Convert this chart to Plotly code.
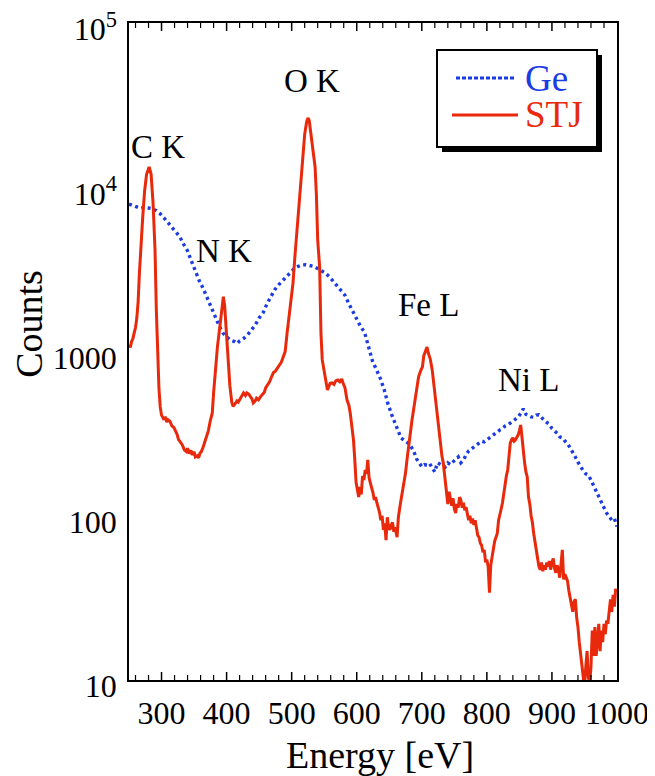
import math
import plotly.graph_objects as go

# ---------------- data ----------------
stj_energy = [250, 252, 254, 256, 258, 260, 262, 264, 266, 268, 271, 274, 277, 281, 284, 287, 290, 292, 294, 296, 298,
              300, 303, 306, 308, 310, 313, 316, 319, 321, 324, 326, 329, 332, 335, 338, 340, 342, 345, 347, 350, 352,
              355, 357, 359, 361, 364, 367, 370, 372, 375, 378, 380, 383, 386, 389, 392, 395, 397, 399, 401, 403, 405,
              408, 410, 413, 416, 418, 421, 424, 426, 429, 431, 434, 437, 439, 441, 444, 446, 449, 452, 455, 458, 460,
              463, 466, 469, 472, 475, 478, 481, 484, 487, 490, 493, 496, 499, 502, 505, 508, 512, 516, 520, 523, 525,
              527, 530, 533, 536, 538, 540, 543, 545, 547, 549, 552, 555, 557, 559, 562, 565, 568, 571, 574, 577, 579,
              582, 585, 588, 590, 593, 595, 597, 599, 601, 603, 605, 607, 609, 611, 613, 615, 617, 619, 621, 623, 625,
              627, 629, 631, 633, 635, 637, 639, 641, 643, 645, 647, 649, 651, 653, 655, 657, 659, 662, 664, 667, 670,
              673, 675, 677, 679, 682, 685, 688, 690, 693, 695, 698, 701, 703, 706, 708, 710, 713, 716, 719, 722, 724,
              726, 728, 731, 733, 736, 738, 740, 742, 744, 746, 748, 750, 752, 754, 756, 758, 760, 762, 764, 766, 768,
              770, 772, 774, 776, 778, 780, 782, 784, 786, 788, 790, 792, 794, 796, 798, 800, 802, 804, 806, 808, 810,
              812, 814, 816, 818, 820, 822, 824, 826, 828, 830, 832, 834, 836, 838, 840, 842, 844, 846, 848, 850, 852,
              854, 856, 858, 860, 862, 864, 866, 868, 870, 872, 874, 876, 878, 880, 882, 884, 886, 888, 890, 892, 894,
              896, 898, 900, 902, 904, 906, 908, 910, 912, 914, 916, 918, 920, 922, 924, 926, 928, 930, 932, 934, 936,
              938, 940, 942, 944, 946, 948, 950, 952, 954, 956, 958, 960, 962, 964, 966, 968, 970, 972, 974, 976, 978,
              980, 982, 984, 986, 988, 990, 992, 994, 996, 998, 1000]
stj_counts = [1100, 1060, 1150, 1200, 1300, 1400, 1600, 2000, 3000, 4200, 6500, 9500, 12000, 13300, 12000, 8000, 4150,
              1800, 900, 600, 460,
              410, 390, 395, 372, 384, 375, 352, 345, 333, 312, 292, 282, 270, 252, 246, 258, 240, 250, 235, 245, 228,
              232, 225, 240, 245, 262, 285, 302, 330, 380, 423, 560, 800, 1080, 1350, 1750, 2160, 1900, 1450, 1050,
              800, 620, 490, 465, 480, 500, 493, 520, 545, 560, 540, 560, 550, 525, 515, 486, 500, 520, 508, 530, 545,
              565, 600, 625, 655, 700, 745, 760, 790, 820, 860, 927, 1000, 1300, 1600, 2000, 2600, 3800, 5270, 8500,
              13300, 21000, 25000, 26400, 25500, 21000, 17000, 13300, 9000, 4780, 3270, 1300, 889, 800, 680, 583, 610,
              640, 644, 630, 665, 671, 655, 680, 644, 600, 508, 470, 423, 340, 290, 220, 160, 144, 130, 150, 135, 175,
              165, 190, 180, 219, 170, 158, 150, 138, 125, 130, 120, 112, 105, 94, 100, 82, 90, 71, 98, 85, 82, 88, 91,
              80, 85, 74, 98, 118, 138, 165, 182, 215, 252, 320, 384, 460, 530, 610, 700, 760, 806, 940, 1000, 1065,
              980, 900, 773, 600, 480, 423, 350, 290, 230, 210, 165, 140, 118, 140, 122, 115, 128, 110, 104, 118, 112,
              130, 125, 112, 120, 108, 113, 100, 94, 100, 90, 96, 88, 94, 82, 76, 74, 68, 66, 60, 62, 52, 54, 49, 34,
              50, 56, 64, 70, 74, 78, 94, 100, 110, 120, 140, 158, 175, 190, 230, 278, 290, 298, 285, 290, 300, 310,
              330, 357, 300, 242, 210, 185, 173, 130, 118, 100, 91, 78, 68, 62, 55, 49, 47, 52, 46, 50, 47, 52, 49, 53,
              47, 52, 55, 48, 45, 50, 47, 42, 50, 62, 41, 44, 42, 40, 35, 32, 28, 26, 30, 31, 24, 21, 17, 14.6, 12,
              10.4, 9, 12, 15, 10.4, 9.5, 12, 20, 14, 21, 14, 18, 22, 15, 20, 17, 22, 19, 23, 22, 28, 31, 26, 33, 28,
              36]

ge_energy = [250, 256, 262, 268, 274, 280, 286, 292, 298, 304, 310, 316, 322, 328, 334, 340, 346, 352, 358, 364, 370,
             376, 382, 388, 394, 400, 406, 412, 416, 420, 426, 432, 438, 444, 450, 456, 462, 468, 474, 480, 486, 492,
             498, 504, 510, 516, 522, 528, 534, 540, 546, 552, 558, 564, 570, 576, 582, 588, 594, 600, 606, 612, 618,
             624, 630, 636, 642, 648, 654, 660, 664, 668, 672, 676, 680, 684, 688, 692, 696, 700, 704, 708, 712, 716,
             720, 724, 728, 732, 736, 740, 744, 748, 752, 756, 760, 764, 768, 772, 776, 780, 784, 788, 792, 796, 800,
             804, 808, 812, 816, 820, 824, 828, 832, 836, 840, 844, 848, 852, 856, 860, 864, 868, 872, 876, 880, 884,
             888, 892, 896, 900, 904, 908, 912, 916, 920, 924, 928, 932, 936, 940, 944, 948, 952, 956, 960, 964, 968,
             972, 976, 980, 984, 988, 992, 996, 1000]
ge_counts = [7900, 7700, 7600, 7450, 7550, 7480, 7400, 7200, 6900, 6500, 6100, 5700, 5400, 5000, 4500, 4100, 3550,
             3050, 2700, 2420, 2150, 1880, 1650, 1450, 1300, 1230, 1170, 1150, 1120, 1160, 1200, 1260, 1340, 1450,
             1600, 1720, 1950, 2150, 2380, 2550, 2700, 2900, 3050, 3200, 3300, 3370, 3380, 3350, 3300, 3200, 3100,
             3000, 2850, 2680, 2500, 2380, 2200, 1950, 1750, 1580, 1420, 1310, 1080, 880, 780, 690, 590, 480, 410,
             360, 330, 298, 290, 282, 275, 262, 245, 222, 208, 199, 205, 203, 208, 196, 185, 210, 206, 202, 198, 210,
             205, 213, 222, 228, 210, 218, 235, 248, 255, 262, 272, 278, 285, 282, 290, 298, 305, 318, 324, 333, 340,
             352, 357, 368, 380, 392, 398, 420, 448, 415, 405, 400, 398, 410, 412, 395, 382, 370, 360, 340, 330, 318,
             302, 298, 285, 275, 259, 245, 228, 212, 198, 188, 180, 177, 165, 152, 140, 132, 120, 112, 104, 98, 94, 96,
             86]

series_names = ["Ge", "STJ"]
x_tick_values = [300, 400, 500, 600, 700, 800, 900, 1000]
x_minor_values = [v for v in range(260, 1000, 20) if v % 100 != 0]
y_tick_values = [10, 100, 1000, 10000, 100000]
y_tick_labels = ["10", "100", "1000", "10<sup>4</sup>", "10<sup>5</sup>"]
y_minor_values = [m * d for d in (10, 100, 1000, 10000) for m in range(2, 10)]
peak_labels = ["C K", "N K", "O K", "Fe L", "Ni L"]
peak_energy = [294, 396, 531, 710, 864]
peak_log_counts = [4.245, 3.612, 4.647, 3.284, 2.827]

# ---------------- style ----------------
BLUE = "#1b3be3"
RED = "#e8290b"
SERIF = "Liberation Serif, Times New Roman, serif"
PLOT_W, PLOT_H = 488.0, 657.0

fig = go.Figure()
fig.add_trace(go.Scatter(x=ge_energy, y=ge_counts, mode="lines", name=series_names[0],
                         line=dict(color=BLUE, width=3.4, dash="3px,3.5px"), showlegend=False))
fig.add_trace(go.Scatter(x=stj_energy, y=stj_counts, mode="lines", name=series_names[1],
                         line=dict(color=RED, width=3), showlegend=False))

axis_common = dict(
    showgrid=False, zeroline=False, showline=True, linecolor="black", linewidth=1.5,
    mirror=True, ticks="", tickfont=dict(family=SERIF, size=32, color="black"), automargin=False,
    ticklabeloverflow="allow",
)

fig.update_xaxes(range=[250, 1000], tickmode="array", tickvals=x_tick_values,
                 ticklabelstandoff=4, **axis_common)
fig.update_yaxes(type="log", range=[1, 5.0005], tickmode="array", tickvals=y_tick_values, ticktext=y_tick_labels,
                 ticklabelstandoff=4, ticklabelshift=6, **axis_common)

# ---- inside tick marks on all four sides, placed on the axes' own coordinates ----
shapes = []
MAJ, MIN = 8.0, 5.0


def x_tick(v, length, width):
    h = length / PLOT_H
    for y0, y1 in ((0, h), (1, 1 - h)):
        shapes.append(dict(type="line", xref="x", yref="paper", x0=v, x1=v, y0=y0, y1=y1,
                           line=dict(color="black", width=width), layer="above"))


def y_tick(v, length, width):
    w = length / PLOT_W
    lv = math.log10(v)
    for x0, x1 in ((0, w), (1, 1 - w)):
        shapes.append(dict(type="line", xref="paper", yref="y", x0=x0, x1=x1, y0=lv, y1=lv,
                           line=dict(color="black", width=width), layer="above"))


for v in x_tick_values[:-1]:
    x_tick(v, MAJ, 1.5)
for v in x_minor_values:
    x_tick(v, MIN, 1.2)
for v in y_tick_values[1:-1]:
    y_tick(v, MAJ, 1.5)
for v in y_minor_values:
    y_tick(v, MIN, 1.2)

# peak annotations
for lab, ex, ly in zip(peak_labels, peak_energy, peak_log_counts):
    fig.add_annotation(x=ex, y=ly, xref="x", yref="y", text=lab, showarrow=False,
                       xanchor="center", yanchor="middle",
                       font=dict(family=SERIF, size=33, color="black"))

# axis titles
fig.add_annotation(x=0.514, y=-0.114, xref="paper", yref="paper", text="Energy [eV]", showarrow=False,
                   xanchor="center", yanchor="middle",
                   font=dict(family=SERIF, size=38, color="black"))
fig.add_annotation(x=-0.205, y=0.542, xref="paper", yref="paper", text="Counts", showarrow=False,
                   xanchor="center", yanchor="middle",
                   textangle=-90, font=dict(family=SERIF, size=38, color="black"))


# legend box (drawn by hand to match the original style)
def px_x(p):
    return (p - 129) / PLOT_W


def px_y(p):
    return (680 - p) / PLOT_H


shapes += [
    dict(type="rect", xref="paper", yref="paper", x0=px_x(442), x1=px_x(602), y0=px_y(152), y1=px_y(55),
         fillcolor="black", line=dict(width=0), layer="above"),
    dict(type="rect", xref="paper", yref="paper", x0=px_x(437), x1=px_x(597), y0=px_y(147), y1=px_y(50),
         fillcolor="white", line=dict(color="black", width=2), layer="above"),
    dict(type="line", xref="paper", yref="paper", x0=px_x(456), x1=px_x(516), y0=px_y(78), y1=px_y(78),
         line=dict(color=BLUE, width=3, dash="4px,2px"), layer="above"),
    dict(type="line", xref="paper", yref="paper", x0=px_x(452), x1=px_x(518), y0=px_y(115), y1=px_y(115),
         line=dict(color=RED, width=3), layer="above"),
]
fig.update_layout(shapes=shapes)
fig.add_annotation(x=px_x(523), y=px_y(78), xref="paper", yref="paper", text=series_names[0], showarrow=False,
                   xanchor="left", yanchor="middle", font=dict(family=SERIF, size=37, color=BLUE))
fig.add_annotation(x=px_x(523), y=px_y(114), xref="paper", yref="paper", text=series_names[1], showarrow=False,
                   xanchor="left", yanchor="middle", font=dict(family=SERIF, size=37, color=RED))

# the page body adds an 8px margin, so the figure is 8px smaller and margins compensate
fig.update_layout(
    width=647, height=768,
    margin=dict(l=121, r=38, t=15, b=96, pad=0),
    paper_bgcolor="white", plot_bgcolor="white",
    showlegend=False,
)

fig.write_html("out.html")
